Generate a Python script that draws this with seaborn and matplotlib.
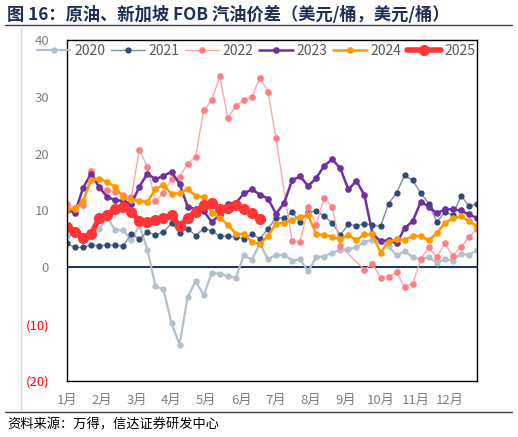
import numpy as np
import pandas as pd
import matplotlib
matplotlib.use("Agg")
import matplotlib.pyplot as plt
from matplotlib.lines import Line2D
import seaborn as sns

# weekly spread, USD/bbl (week 1..52), None = no data that week
weeks = list(range(52))
y2020 = [5.6, 6.0, 5.5, 5.8, 6.8, 8.6, 6.6, 6.5, 4.75, 7.4, 3.1, -3.3, -3.9, -9.8, -13.6, -5.3,
         -2.4, -4.9, -1.0, -1.1, -1.6, -1.8, 2.1, 1.35, 4.2, 1.4, 2.2, 2.2, 1.2, 1.4, -0.7, 1.8,
         1.9, 2.6, 3.0, 3.2, 3.5, 4.5, 4.8, 4.7, 3.7, 2.1, 2.8, 1.8, 1.35, 1.8, 0.8, 1.4,
         1.2, 2.4, 2.2, 3.0]
y2021 = [4.2, 3.5, 3.5, 3.9, 3.8, 3.9, 3.9, 3.75, 5.9, 5.0, 6.2, 5.7, 6.2, 7.8, 6.1, 6.8,
         5.6, 6.8, 6.4, 5.5, 5.5, 5.3, 5.05, 5.9, 5.0, 6.8, 8.7, 8.7, 9.7, 8.0, 9.7, 9.9,
         9.0, 7.8, 5.7, 7.6, 7.3, 7.7, 7.4, 7.2, 11.2, 13.1, 16.2, 15.3, 13.1, 11.2, 8.0, 9.7,
         9.2, 12.6, 10.8, 11.1]
y2022 = [11.2, 10.5, 11.0, 17.0, 14.0, 13.6, 13.3, 12.7, 12.4, 20.7, 17.7, 11.6, 13.1, 15.5, 15.9, 18.2,
         19.5, 27.6, 29.4, 33.6, 26.3, 28.3, 29.5, 30.0, 33.4, 30.9, 22.7, None, 4.6, 4.5, 10.6, 7.5,
         12.2, 10.6, 3.7, None, None, -0.4, 0.6, -1.8, -1.7, -0.9, -3.5, -2.9, 1.4, 3.5, 1.8, 4.2,
         2.0, 3.6, 5.3, 6.8]
y2023 = [10.1, 9.6, 14.0, 16.5, 14.1, 12.4, 11.8, 11.7, 11.1, 14.2, 16.5, 15.5, 16.1, 16.8, 14.7, 10.7,
         10.2, 9.9, 8.0, 9.2, 11.2, 11.3, 13.0, 13.7, 12.8, 12.1, 9.4, 11.3, 15.3, 16.0, 14.3, 15.7,
         17.9, 19.0, 17.4, 13.7, 15.2, 12.7, 5.9, 4.6, 4.75, 4.2, 6.9, 8.1, 11.5, 10.7, 9.5, 10.2,
         10.2, 10.0, 9.3, 8.7]
y2024 = [10.3, 10.3, 11.7, 15.3, 15.6, 15.0, 14.2, 12.3, 11.9, 11.7, 11.5, 13.8, 14.5, 12.9, 13.0, 13.8,
         12.6, 12.3, 9.6, 8.7, 7.5, 5.9, 5.8, 4.5, 4.1, 5.5, 7.7, 7.8, 8.3, 8.9, 9.2, 5.8,
         5.7, 5.4, 4.9, 5.7, 4.8, 5.8, 5.8, 2.6, 4.5, 4.9, 4.8, 5.5, 5.5, 4.75, 6.0, 7.8,
         8.6, 9.0, 8.1, 7.3]
y2025 = [7.1, 6.3, 5.1, 5.8, 8.7, 9.2, 10.3, 10.6, 9.8, 8.1, 8.0, 8.3, 8.6, 9.2, 7.2, 8.6,
         9.8, 11.0, 11.3, 10.2, 10.5, 11.0, 10.3, 9.5, 8.5]

years = ["2020", "2021", "2022", "2023", "2024", "2025"]
series = [y2020, y2021, y2022, y2023, y2024, y2025]
month_labels = [f"{m}月" for m in range(1, 13)]
ytick_vals = [40, 30, 20, 10, 0, -10, -20]
ytick_labels = ["40", "30", "20", "10", "0", "(10)", "(20)"]

# line colour, marker colour, line width, marker size
styles = {
    "2020": ("#B4BFCE", "#B4BFCE", 1.6, 4.5),
    "2021": ("#7E8DA6", "#2F4B73", 1.0, 4.5),
    "2022": ("#FFA6AA", "#FF7E84", 1.0, 4.8),
    "2023": ("#7030A0", "#7030A0", 1.8, 4.8),
    "2024": ("#FF9900", "#FF9900", 1.8, 4.8),
    "2025": ("#FF3535", "#FF3535", 4.0, 8.0),
}

sns.set_style("white")
plt.rcParams["font.family"] = ["Noto Sans CJK SC", "DejaVu Sans"]

fig = plt.figure(figsize=(5.18, 4.37), dpi=100)
ax = fig.add_axes([67 / 518, 1 - 381 / 437, 410 / 518, 341 / 437])

handles = []
for yr, vals in zip(years, series):
    lc, mc, lw, ms = styles[yr]
    df = pd.DataFrame({"week": weeks[:len(vals)], "value": vals}).dropna()
    sns.lineplot(data=df, x="week", y="value", ax=ax, color=lc, linewidth=lw,
                 marker="o", markersize=ms, markerfacecolor=mc, markeredgecolor=mc,
                 markeredgewidth=0, legend=False)
    handles.append(Line2D([0], [0], color=lc, lw=lw, marker="o", markersize=ms,
                          markerfacecolor=mc, markeredgecolor=mc, markeredgewidth=0))

ax.axhline(0, color="#1F3864", lw=1.5, zorder=1)

ax.set_xlim(0, 51)
ax.set_ylim(-20, 40)
ax.set_xticks(np.arange(12) * 52 / 12)
ax.set_xticklabels(month_labels, fontsize=9.5, color="#7F7F7F")
ax.set_yticks(ytick_vals)
ax.set_yticklabels(ytick_labels, fontsize=9.5)
for lab, v in zip(ax.get_yticklabels(), ytick_vals):
    lab.set_color("#FF0000" if v < 0 else "#7F7F7F")
ax.tick_params(axis="both", length=0)
ax.tick_params(axis="y", pad=13)
ax.tick_params(axis="x", pad=9)
ax.set_xlabel("")
ax.set_ylabel("")
for s in ax.spines.values():
    s.set_color("black")
    s.set_linewidth(1.0)

leg = ax.legend(handles, years, loc="center", bbox_to_anchor=(0.462, 0.968), ncol=6,
                frameon=False, fontsize=10, handlelength=2.4, handletextpad=0.3,
                columnspacing=0.4, borderaxespad=0)
for t in leg.get_texts():
    t.set_color("#595959")

# title, rules and source
fig.text(7 / 518, 1 - 15 / 437, "图 16：原油、新加坡 FOB 汽油价差（美元/桶，美元/桶）",
         fontsize=12.4, fontweight="bold", color="#1F2F55", ha="left", va="center")
fig.add_artist(Line2D([5 / 518, 512 / 518], [1 - 25 / 437, 1 - 25 / 437], color="#404040", lw=1))
fig.add_artist(Line2D([5 / 518, 512 / 518], [1 - 412 / 437, 1 - 412 / 437], color="#404040", lw=1))
fig.add_artist(Line2D([21 / 518, 21 / 518], [1 - 28 / 437, 1 - 411 / 437], color="#D9D9D9", lw=1))
fig.text(7 / 518, 1 - 425 / 437, "资料来源：万得，信达证券研发中心", fontsize=9.5,
         style="italic", color="black", ha="left", va="center")

fig.savefig("out.png", dpi=100)
